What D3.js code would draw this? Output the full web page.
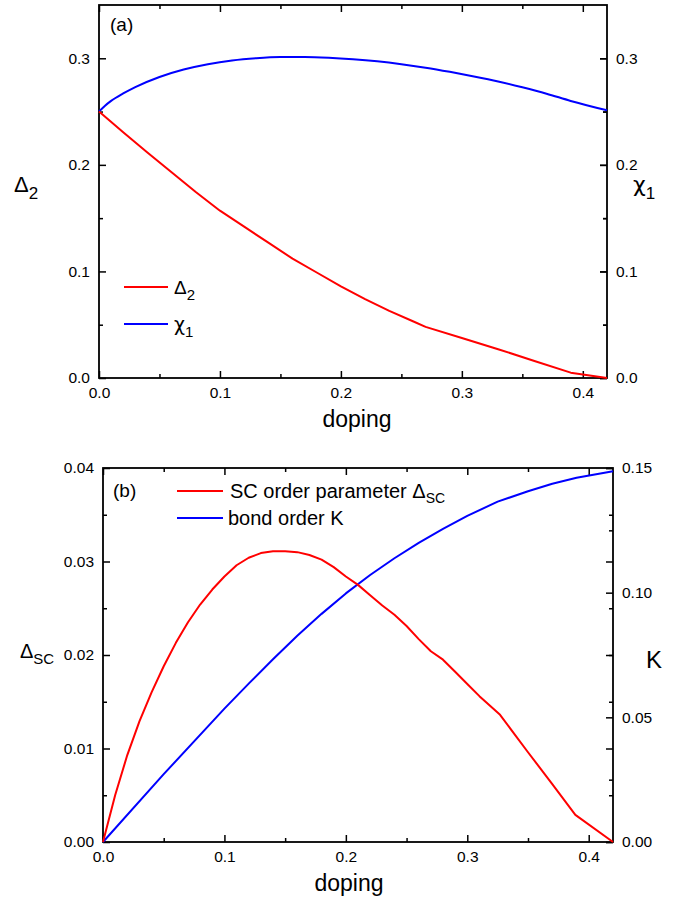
<!DOCTYPE html>
<html>
<head>
<meta charset="utf-8">
<script src="https://cdn.jsdelivr.net/npm/d3@7"></script>
<style>
  html, body { margin: 0; padding: 0; background: #fff; }
  svg { display: block; font-family: "Liberation Sans", Arial, sans-serif; }
  .domain { display: none; }
</style>
</head>
<body>
<svg id="chart" width="689" height="900"></svg>
<script>
// ---- panel (a): gap parameters vs doping ----
const dopingDelta2 = [0, 0.02, 0.04, 0.06, 0.08, 0.10, 0.12, 0.14, 0.16, 0.18, 0.20, 0.22, 0.24, 0.26, 0.27, 0.30, 0.33, 0.36, 0.39, 0.42];
const delta2 = [0.250, 0.2305, 0.2115, 0.1930, 0.1745, 0.157, 0.142, 0.127, 0.112, 0.099, 0.086, 0.074, 0.063, 0.053, 0.048, 0.0375, 0.027, 0.016, 0.005, 0.0];

const dopingChi1 = [0, 0.005, 0.01, 0.02, 0.03, 0.05, 0.07, 0.09, 0.11, 0.13, 0.15, 0.17, 0.19, 0.21, 0.23, 0.25, 0.27, 0.29, 0.31, 0.33, 0.35, 0.37, 0.39, 0.42];
const chi1 = [0.250, 0.2555, 0.2600, 0.2670, 0.2730, 0.2825, 0.2895, 0.2945, 0.2980, 0.3001, 0.3012, 0.3013, 0.3006, 0.2992, 0.2972, 0.2945, 0.2912, 0.2873, 0.2830, 0.2783, 0.2728, 0.2668, 0.2600, 0.2512];

// ---- panel (b): SC order parameter and bond order vs doping ----
const dopingSC = [0, 0.01, 0.02, 0.03, 0.04, 0.05, 0.06, 0.07, 0.08, 0.09, 0.10, 0.11, 0.12, 0.13, 0.14, 0.15, 0.16, 0.17, 0.18, 0.19, 0.20, 0.21, 0.22, 0.23, 0.24, 0.25, 0.26, 0.27, 0.28, 0.29, 0.30, 0.31, 0.327, 0.35, 0.37, 0.389, 0.42];
const deltaSC = [0, 0.0050, 0.0093, 0.0129, 0.0160, 0.0188, 0.0213, 0.0235, 0.0254, 0.0270, 0.0284, 0.0296, 0.0304, 0.0309, 0.0311, 0.0311, 0.0310, 0.0307, 0.0302, 0.0294, 0.0284, 0.0275, 0.0264, 0.0253, 0.0243, 0.0231, 0.0217, 0.0204, 0.0195, 0.0182, 0.0169, 0.0156, 0.0136, 0.0096, 0.0062, 0.0029, 0.0];

const dopingK = [0, 0.05, 0.10, 0.12, 0.14, 0.16, 0.18, 0.20, 0.22, 0.24, 0.26, 0.28, 0.30, 0.325, 0.35, 0.37, 0.39, 0.42];
const bondK = [0, 0.0272, 0.0535, 0.0635, 0.0733, 0.0827, 0.0915, 0.0997, 0.1071, 0.1138, 0.1200, 0.1256, 0.1308, 0.1365, 0.1407, 0.1437, 0.1461, 0.1487];

// ---- tick values ----
const xMajor = [0, 0.1, 0.2, 0.3, 0.4];
const xMinor = [0.05, 0.15, 0.25, 0.35];
const aMajor = [0, 0.1, 0.2, 0.3];
const aMinor = [0.05, 0.15, 0.25];
const bLeftMajor = [0, 0.01, 0.02, 0.03, 0.04];
const bLeftMinor = [0.005, 0.015, 0.025, 0.035];
const bRightMajor = [0, 0.05, 0.10, 0.15];
const bRightMinor = [0.025, 0.075, 0.125];

const RED = "#ff0000", BLUE = "#0000ff";
const svg = d3.select("#chart");
const MAJ = 7, MIN = 4, PAD = 9;

function drawTicks(g, axisFn, scale, major, minor, fmt, sign) {
  g.append("g").call(axisFn(scale).tickValues(minor).tickSize(sign * MIN).tickFormat(""))
    .selectAll("line").attr("stroke", "#000").attr("stroke-width", 1.5);
  const a = g.append("g").call(axisFn(scale).tickValues(major).tickSize(sign * MAJ)
    .tickPadding(PAD).tickFormat(fmt === null ? "" : fmt));
  a.selectAll("line").attr("stroke", "#000").attr("stroke-width", 1.5);
  a.selectAll("text").attr("font-size", 15.5).attr("fill", "#000")
    .attr("font-family", "'Liberation Sans', Arial, sans-serif");
  return a;
}

function panel(opt) {
  const { x0, x1, y0, y1 } = opt;
  const x = d3.scaleLinear().domain([0, 0.42]).range([x0, x1]);
  const yL = d3.scaleLinear().domain(opt.leftDomain).range([y1, y0]);
  const yR = d3.scaleLinear().domain(opt.rightDomain).range([y1, y0]);
  const g = svg.append("g");

  // ticks: all pointing inward
  drawTicks(g.append("g").attr("transform", `translate(0,${y1})`), d3.axisBottom, x, xMajor, xMinor, d3.format(".1f"), -1)
    .selectAll("text").attr("dy", "0.71em");
  drawTicks(g.append("g").attr("transform", `translate(0,${y0})`), d3.axisTop, x, xMajor, xMinor, null, -1);
  drawTicks(g.append("g").attr("transform", `translate(${x0},0)`), d3.axisLeft, yL, opt.leftMajor, opt.leftMinor, opt.leftFmt, -1);
  // left scale mirrored on the right edge
  drawTicks(g.append("g").attr("transform", `translate(${x1},0)`), d3.axisRight, yL, opt.leftMajor, opt.leftMinor, null, -1);
  drawTicks(g.append("g").attr("transform", `translate(${x1},0)`), d3.axisRight, yR, opt.rightMajor, opt.rightMinor, opt.rightFmt, -1);

  // frame
  g.append("rect").attr("x", x0).attr("y", y0).attr("width", x1 - x0).attr("height", y1 - y0)
    .attr("fill", "none").attr("stroke", "#000").attr("stroke-width", 1.8);

  opt.series.forEach(s => {
    const sc = s.axis === "left" ? yL : yR;
    const line = d3.line().x(d => x(d[0])).y(d => sc(d[1])).curve(s.smooth ? d3.curveMonotoneX : d3.curveLinear);
    g.append("path").datum(d3.zip(s.x, s.y)).attr("d", line)
      .attr("fill", "none").attr("stroke", s.color).attr("stroke-width", 2)
      .attr("stroke-linejoin", "round");
  });
  return { g, x, yL, yR };
}

// ---------- panel (a) ----------
panel({
  x0: 99, x1: 607, y0: 5, y1: 378,
  leftDomain: [0, 0.35], rightDomain: [0, 0.35],
  leftMajor: aMajor, leftMinor: aMinor, leftFmt: d3.format(".1f"),
  rightMajor: aMajor, rightMinor: aMinor, rightFmt: d3.format(".1f"),
  series: [
    { x: dopingChi1, y: chi1, color: BLUE, axis: "left", smooth: true },
    { x: dopingDelta2, y: delta2, color: RED, axis: "left" }
  ]
});

// ---------- panel (b) ----------
panel({
  x0: 103, x1: 613, y0: 468, y1: 842,
  leftDomain: [0, 0.04], rightDomain: [0, 0.15],
  leftMajor: bLeftMajor, leftMinor: bLeftMinor, leftFmt: d3.format(".2f"),
  rightMajor: bRightMajor, rightMinor: bRightMinor, rightFmt: d3.format(".2f"),
  series: [
    { x: dopingK, y: bondK, color: BLUE, axis: "right" },
    { x: dopingSC, y: deltaSC, color: RED, axis: "left" }
  ]
});

// ---------- labels ----------
const CHI_FONT = "'DejaVu Sans', sans-serif";
function subLabel(x, y, main, sub, size, subSize, mainFont) {
  const t = svg.append("text").attr("x", x).attr("y", y).attr("font-size", size).attr("fill", "#000");
  const m = t.append("tspan").text(main);
  if (mainFont) m.attr("font-family", mainFont);
  t.append("tspan").attr("font-size", subSize).attr("dy", size * 0.32).text(sub);
  return t;
}

svg.append("text").attr("x", 110).attr("y", 31).attr("font-size", 19).text("(a)");
svg.append("text").attr("x", 113).attr("y", 497).attr("font-size", 19).text("(b)");

// axis titles
svg.append("text").attr("x", 357).attr("y", 427).attr("font-size", 23).attr("text-anchor", "middle").text("doping");
svg.append("text").attr("x", 349).attr("y", 891).attr("font-size", 23).attr("text-anchor", "middle").text("doping");
subLabel(14, 192, "Δ", "2", 22, 17);
subLabel(633, 192, "χ", "1", 22, 17, CHI_FONT);
subLabel(20, 658, "Δ", "SC", 20, 15);
svg.append("text").attr("x", 646).attr("y", 668).attr("font-size", 24).text("K");

// legend (a)
const legA = [{ c: RED, m: "Δ", s: "2", y: 287, f: null }, { c: BLUE, m: "χ", s: "1", y: 324, f: CHI_FONT }];
legA.forEach(d => {
  svg.append("line").attr("x1", 124).attr("x2", 168).attr("y1", d.y).attr("y2", d.y)
    .attr("stroke", d.c).attr("stroke-width", 2);
  subLabel(174, d.y + 7, d.m, d.s, 19, 15, d.f);
});

// legend (b)
svg.append("line").attr("x1", 177).attr("x2", 223).attr("y1", 491).attr("y2", 491).attr("stroke", RED).attr("stroke-width", 2);
const tb = svg.append("text").attr("x", 230).attr("y", 498).attr("font-size", 20);
tb.append("tspan").text("SC order parameter Δ");
tb.append("tspan").attr("font-size", 14).attr("dy", 5).text("SC");
svg.append("line").attr("x1", 177).attr("x2", 223).attr("y1", 518).attr("y2", 518).attr("stroke", BLUE).attr("stroke-width", 2);
svg.append("text").attr("x", 228).attr("y", 525).attr("font-size", 20).text("bond order K");
</script>
</body>
</html>
